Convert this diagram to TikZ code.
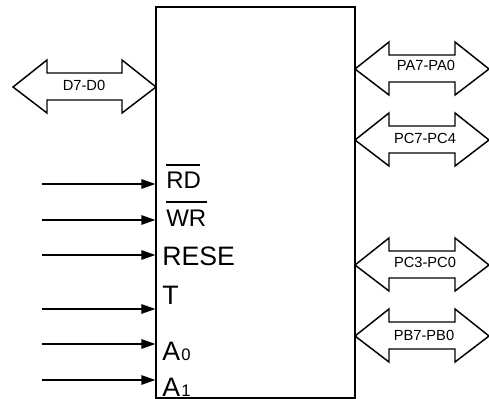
\documentclass[tikz,border=0pt]{standalone}
\usepackage{fontspec}
\setmainfont{Liberation Sans}
\usetikzlibrary{arrows.meta}

\tikzset{
  chipline/.style={line width=1.1pt},
  pinarrow/.style={line width=1.1pt, -{Triangle[length=10.5pt,width=7pt]}, shorten >=0.4pt},
  bigpin/.style={anchor=base west, inner sep=0pt, font=\fontsize{20}{23}\selectfont},
  barpin/.style={anchor=base west, inner sep=0pt, font=\fontsize{18}{20}\selectfont},
  subpin/.style={anchor=base west, inner sep=0pt, xshift=0.5pt, font=\fontsize{12.5}{15}\selectfont},
  buslabel/.style={anchor=base, inner sep=0pt, font=\fontsize{11}{13}\selectfont}
}

% double arrow of a bus: left tip x, right tip x, centre y
\newcommand{\busarrow}[3]{
  \draw[chipline, line join=miter] (#1,#3) -- (#1+34,#3-27) -- (#1+34,#3-14) -- (#2-34,#3-14)
    -- (#2-34,#3-27) -- (#2,#3) -- (#2-34,#3+26) -- (#2-34,#3+13) -- (#1+34,#3+13)
    -- (#1+34,#3+26) -- cycle;
}

\begin{document}
\begin{tikzpicture}[x=0.75pt, y=-0.75pt]
  \useasboundingbox (0,0) rectangle (489,399);

  % --- chip body ---
  \draw[chipline] (156,7) rectangle (355,398);

  % --- pin texts ---
  \node[barpin] (rdpin) at (166,189) {RD};
  \node[barpin] (wrpin) at (166,226) {WR};
  \node[bigpin] (resetpin) at (162,265) {RESE};
  \node[bigpin] (tpin) at (162,304) {T};
  \node[bigpin] (azero) at (162,360) {A};
  \node[subpin] (azerosub) at (azero.base east) {0};
  \node[bigpin] (aone) at (162,396) {A};
  \node[subpin] (aonesub) at (aone.base east) {1};

  % bars over RD and WR
  \draw[line width=0.8pt] (166,165) -- (200,165);
  \draw[line width=0.8pt] (166,202) -- (207,202);

  % --- control inputs (free ends and ends on the chip edge) ---
  \coordinate (rdfrom) at (42,184);   \coordinate (rdto) at (156,184);
  \coordinate (wrfrom) at (42,220);   \coordinate (wrto) at (156,220);
  \coordinate (resetfrom) at (42,255); \coordinate (resetto) at (156,255);
  \coordinate (csfrom) at (42,309);   \coordinate (csto) at (156,309);
  \coordinate (azerofrom) at (42,344); \coordinate (azeroto) at (156,344);
  \coordinate (aonefrom) at (42,380); \coordinate (aoneto) at (156,380);
  \draw[pinarrow] (rdfrom) -- (rdto);
  \draw[pinarrow] (wrfrom) -- (wrto);
  \draw[pinarrow] (resetfrom) -- (resetto);
  \draw[pinarrow] (csfrom) -- (csto);
  \draw[pinarrow] (azerofrom) -- (azeroto);
  \draw[pinarrow] (aonefrom) -- (aoneto);

  % --- buses ---
  \busarrow{13}{156}{87}
  \busarrow{355}{489}{69}
  \busarrow{355}{489}{140}
  \busarrow{355}{489}{265}
  \busarrow{355}{489}{336}

  \node[buslabel] (dbus) at (84,91) {D7-D0};
  \node[buslabel] (pabus) at (426,71) {PA7-PA0};
  \node[buslabel] (pchighbus) at (425,144) {PC7-PC4};
  \node[buslabel] (pclowbus) at (425,267) {PC3-PC0};
  \node[buslabel] (pbbus) at (424,340) {PB7-PB0};
\end{tikzpicture}
\end{document}
